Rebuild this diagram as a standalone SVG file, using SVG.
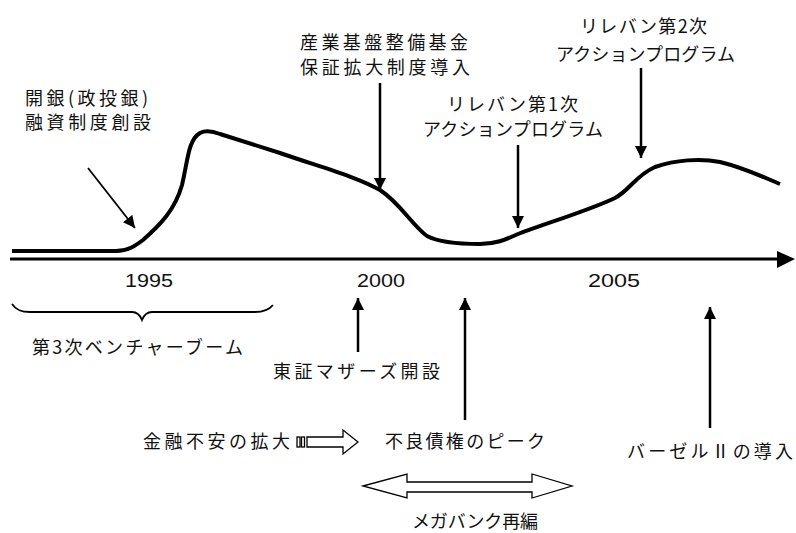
<svg xmlns="http://www.w3.org/2000/svg" width="796" height="533" viewBox="0 0 796 533">
<style>
.t{font-family:"Noto Sans CJK JP","Liberation Sans",sans-serif;font-size:18px;fill:#111}
.y{font-family:"Liberation Sans",Arial,sans-serif;font-size:19px;fill:#111}
.ln{stroke:#000;stroke-width:2.5;fill:none}
.thin{stroke:#000;stroke-width:1.8;fill:none}
.blk{fill:#fff;stroke:#000;stroke-width:1.3}
</style>
<defs>
<marker id="ah" markerUnits="userSpaceOnUse" markerWidth="13" markerHeight="13" refX="12" refY="6" orient="auto">
<path d="M0,0 L12,6 L0,12 Z" fill="#000"/>
</marker>
</defs>
<rect width="796" height="533" fill="#fff"/>

<g id="axis">
<line x1="10" y1="259" x2="780" y2="259" stroke="#000" stroke-width="3"/>
<polygon points="777,251 795,259 777,268" fill="#000"/>
</g>

<g id="curve">
<path d="M12,251 L116,251 C128,251 135,246 143,240 C160,225 175,210 182,185 C188,160 188,140 200,133 C206,130 212,131 220,134 L280,153 C320,167 355,176 380,190 C400,203 412,225 427,236 C440,243 460,244 480,244 C495,244 505,240 518,234 C550,222 590,210 615,198 C630,190 635,176 655,167 C675,160 700,158 720,162 C745,168 765,178 780,184" fill="none" stroke="#000" stroke-width="4" stroke-linejoin="round"/>
</g>

<g id="years">
<text class="y" x="125" y="287" textLength="48" lengthAdjust="spacingAndGlyphs">1995</text>
<text class="y" x="357" y="287" textLength="48" lengthAdjust="spacingAndGlyphs">2000</text>
<text class="y" x="588" y="287" textLength="52" lengthAdjust="spacingAndGlyphs">2005</text>
</g>

<g id="node-kaigin">
<text class="t" x="25" y="105" textLength="123" lengthAdjust="spacing">開銀(政投銀)</text>
<text class="t" x="25" y="129" textLength="126" lengthAdjust="spacing">融資制度創設</text>
</g>
<g id="node-sangyo">
<text class="t" x="300" y="49" textLength="168" lengthAdjust="spacing">産業基盤整備基金</text>
<text class="t" x="300" y="74" textLength="170" lengthAdjust="spacing">保証拡大制度導入</text>
</g>
<g id="node-reliban1">
<text class="t" x="447" y="111" textLength="131" lengthAdjust="spacing">リレバン第1次</text>
<text class="t" x="423" y="136" textLength="180" lengthAdjust="spacing">アクションプログラム</text>
</g>
<g id="node-reliban2">
<text class="t" x="580" y="33" textLength="127" lengthAdjust="spacing">リレバン第2次</text>
<text class="t" x="556" y="61" textLength="179" lengthAdjust="spacing">アクションプログラム</text>
</g>
<g id="node-venture">
<path d="M12,304 C16,310 21,312 30,312 L132,312 C137,312 140,315 142,320 C144,315 147,312 152,312 L255,312 C264,312 269,310 273,305" class="thin" stroke-width="1.5"/>
<text class="t" x="32" y="354" textLength="211" lengthAdjust="spacing">第3次ベンチャーブーム</text>
</g>
<g id="node-mothers">
<text class="t" x="273" y="378" textLength="167" lengthAdjust="spacing">東証マザーズ開設</text>
</g>
<g id="node-kinyu">
<text class="t" x="143" y="448" textLength="147" lengthAdjust="spacing">金融不安の拡大</text>
<rect class="blk" x="297" y="437" width="3" height="10"/>
<rect class="blk" x="301.5" y="437" width="3" height="10"/>
<path class="blk" d="M307,437 L343,437 L343,430 L358,442 L343,454 L343,447 L307,447 Z"/>
</g>
<g id="node-furyo">
<text class="t" x="385" y="448" textLength="160" lengthAdjust="spacing">不良債権のピーク</text>
</g>
<g id="node-basel">
<text class="t" x="627" y="458" textLength="166" lengthAdjust="spacing">バーゼルⅡの導入</text>
</g>
<g id="node-megabank">
<path class="blk" d="M363,486 L407,474 L407,482 L532,482 L532,474 L572,486 L532,498 L532,492 L407,492 L407,498 Z"/>
<text class="t" x="412" y="528" textLength="126" lengthAdjust="spacing">メガバンク再編</text>
</g>

<g id="connectors">
<line class="thin" x1="88" y1="168" x2="135" y2="228" marker-end="url(#ah)"/>
<line class="ln" x1="380" y1="83" x2="380" y2="190" marker-end="url(#ah)"/>
<line class="ln" x1="518" y1="145" x2="518" y2="228" marker-end="url(#ah)"/>
<line class="ln" x1="641" y1="68" x2="641" y2="158" marker-end="url(#ah)"/>
<line class="ln" x1="358" y1="352" x2="358" y2="298" marker-end="url(#ah)"/>
<line class="ln" x1="465" y1="420" x2="465" y2="298" marker-end="url(#ah)"/>
<line class="ln" x1="710" y1="428" x2="710" y2="307" marker-end="url(#ah)"/>
</g>
</svg>
